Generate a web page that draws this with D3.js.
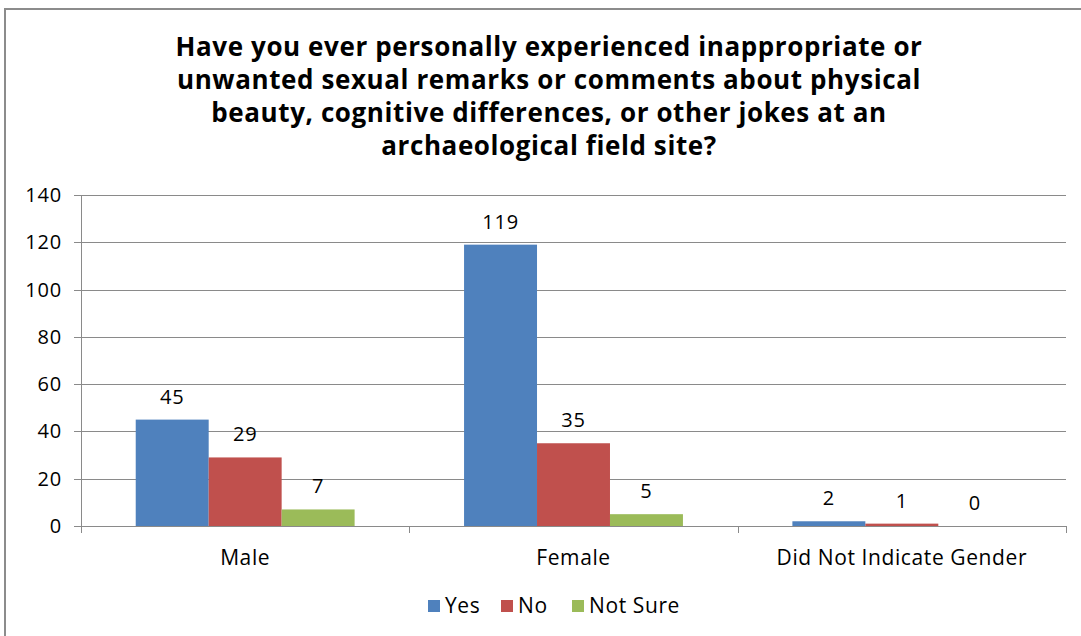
<!DOCTYPE html>
<html>
<head>
<meta charset="utf-8">
<script src="https://cdn.jsdelivr.net/npm/d3@7"></script>
<style>
  body { margin: 0; background: #fff; }
  text { font-family: "Open Sans", "Lato", sans-serif; fill: #000; }
</style>
</head>
<body>
<div id="chart"></div>
<script>
// data
var categories = ["Male", "Female", "Did Not Indicate Gender"];
var seriesNames = ["Yes", "No", "Not Sure"];
var yesValues = [45, 119, 2];
var noValues = [29, 35, 1];
var notSureValues = [7, 5, 0];
var yTicks = [0, 20, 40, 60, 80, 100, 120, 140];
var titleLines = [
  "Have you ever personally experienced inappropriate or",
  "unwanted sexual remarks or comments about physical",
  "beauty, cognitive differences, or other jokes at an",
  "archaeological field site?"
];
var colors = ["#4f81bd", "#c0504d", "#9bbb59"];

var W = 1081, H = 636;
var margin = {top: 195, right: 15, bottom: 110, left: 81};

var svg = d3.select("#chart")
  .append("svg")
  .attr("width", W)
  .attr("height", H);

// outer frame
svg.append("rect")
  .attr("x", 5)
  .attr("y", 9)
  .attr("width", W + 10)
  .attr("height", H + 10)
  .attr("fill", "none")
  .attr("stroke", "#8c8c8c")
  .attr("stroke-width", 2);

// title
svg.append("g")
  .selectAll("text")
  .data(titleLines)
  .enter().append("text")
  .attr("x", 549)
  .attr("y", function(d, i) { return 56 + i * 33; })
  .attr("text-anchor", "middle")
  .style("font-size", "26px")
  .style("letter-spacing", "0.6px")
  .style("font-weight", "bold")
  .text(function(d) { return d; });

var x0 = d3.scaleBand()
  .domain(categories)
  .range([margin.left, W - margin.right])
  .paddingInner(0)
  .paddingOuter(0);

// Excel gap width 150% -> group occupies 3/4.5 of band
var bw = x0.bandwidth() / 4.5;
var x1 = d3.scaleBand()
  .domain(seriesNames)
  .range([0, bw * 3]);

var y = d3.scaleLinear()
  .domain([0, 140])
  .range([H - margin.bottom, margin.top]);

// gridlines
svg.append("g")
  .selectAll("line")
  .data(yTicks)
  .enter().append("line")
  .attr("x1", margin.left - 7)
  .attr("x2", W - margin.right)
  .attr("y1", function(d) { return Math.round(y(d)) + 0.5; })
  .attr("y2", function(d) { return Math.round(y(d)) + 0.5; })
  .attr("stroke", "#8a8a8a")
  .attr("stroke-width", 1);

// y axis line
svg.append("line")
  .attr("x1", margin.left + 0.5)
  .attr("x2", margin.left + 0.5)
  .attr("y1", y(140))
  .attr("y2", y(0))
  .attr("stroke", "#8a8a8a");

// y labels
svg.append("g")
  .selectAll("text")
  .data(yTicks)
  .enter().append("text")
  .attr("x", 62)
  .attr("y", function(d) { return y(d); })
  .attr("dy", "0.35em")
  .attr("text-anchor", "end")
  .style("font-size", "20px")
  .style("letter-spacing", "0.8px")
  .text(function(d) { return d; });

// category ticks
var tickXs = categories.map(function(c) { return x0(c); }).concat([W - margin.right]);
svg.append("g")
  .selectAll("line")
  .data(tickXs)
  .enter().append("line")
  .attr("x1", function(d) { return Math.round(d) + 0.5; })
  .attr("x2", function(d) { return Math.round(d) + 0.5; })
  .attr("y1", y(0))
  .attr("y2", y(0) + 7)
  .attr("stroke", "#8a8a8a");

// category labels
svg.append("g")
  .selectAll("text")
  .data(categories)
  .enter().append("text")
  .attr("x", function(d) { return x0(d) + x0.bandwidth() / 2; })
  .attr("y", 565)
  .attr("text-anchor", "middle")
  .style("font-size", "21px")
  .style("letter-spacing", "0.6px")
  .text(function(d) { return d; });

// bars
var rows = categories.map(function(c, i) {
  return {cat: c, vals: [yesValues[i], noValues[i], notSureValues[i]]};
});

var groups = svg.append("g")
  .selectAll("g")
  .data(rows)
  .enter().append("g")
  .attr("transform", function(d) {
    return "translate(" + (x0(d.cat) + bw * 0.75) + ",0)";
  });

groups.selectAll("rect")
  .data(function(d) { return d.vals; })
  .enter().append("rect")
  .attr("x", function(d, i) { return x1(seriesNames[i]); })
  .attr("y", function(d) { return y(d); })
  .attr("width", x1.bandwidth())
  .attr("height", function(d) { return y(0) - y(d); })
  .attr("fill", function(d, i) { return colors[i]; });

groups.selectAll("text")
  .data(function(d) { return d.vals; })
  .enter().append("text")
  .attr("x", function(d, i) { return x1(seriesNames[i]) + x1.bandwidth() / 2; })
  .attr("y", function(d) { return y(d) - 16; })
  .attr("text-anchor", "middle")
  .style("font-size", "20px")
  .style("letter-spacing", "0.8px")
  .text(function(d) { return d; });

// legend
var legendX = [428, 501, 572];
var legend = svg.append("g")
  .selectAll("g")
  .data(seriesNames)
  .enter().append("g")
  .attr("transform", function(d, i) { return "translate(" + legendX[i] + ",606)"; });

legend.append("rect")
  .attr("x", 0)
  .attr("y", -6)
  .attr("width", 12)
  .attr("height", 12)
  .attr("fill", function(d, i) { return colors[i]; });

legend.append("text")
  .attr("x", 17)
  .attr("y", 0)
  .attr("dy", "0.35em")
  .style("font-size", "21px")
  .style("letter-spacing", "0.6px")
  .text(function(d) { return d; });
</script>
</body>
</html>
